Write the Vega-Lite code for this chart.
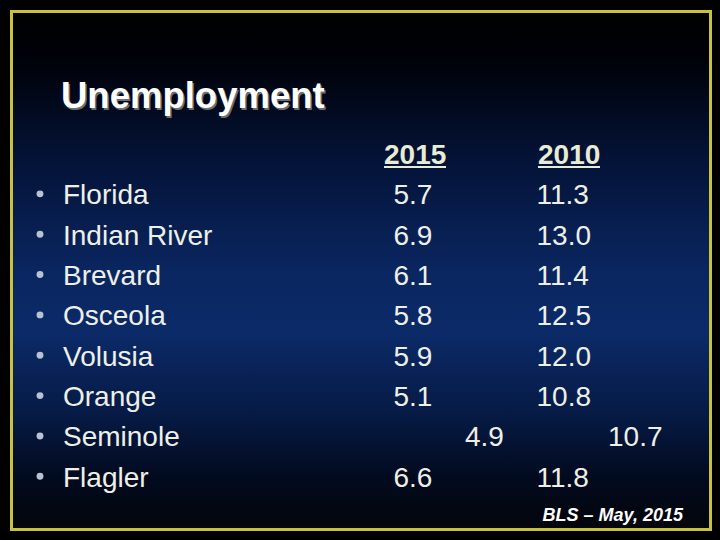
{
  "$schema": "https://vega.github.io/schema/vega-lite/v6.json",
  "width": 699,
  "height": 518,
  "autosize": {"type": "none"},
  "padding": {"left": 11.5, "top": 11.5, "right": 9.5, "bottom": 10.5},
  "background": "#000000",
  "config": {
    "view": {
      "fill": {
        "gradient": "linear",
        "x1": 0, "y1": 0, "x2": 0, "y2": 1,
        "stops": [
          {"offset": 0, "color": "#000000"},
          {"offset": 0.1, "color": "#00020a"},
          {"offset": 0.3, "color": "#04143a"},
          {"offset": 0.5, "color": "#0a2660"},
          {"offset": 0.62, "color": "#0b2a68"},
          {"offset": 0.78, "color": "#061a44"},
          {"offset": 0.9, "color": "#020a1e"},
          {"offset": 1, "color": "#03050a"}
        ]
      },
      "stroke": "#c9c23f",
      "strokeWidth": 3
    },
    "text": {"font": "Liberation Sans"}
  },
  "datasets": {
    "counties": [
      {"county": "Florida"},
      {"county": "Indian River"},
      {"county": "Brevard"},
      {"county": "Osceola"},
      {"county": "Volusia"},
      {"county": "Orange"},
      {"county": "Seminole"},
      {"county": "Flagler"}
    ],
    "rates": [
      {"county": "Florida", "year": "2015", "column": "2015", "value": 5.7},
      {"county": "Indian River", "year": "2015", "column": "2015", "value": 6.9},
      {"county": "Brevard", "year": "2015", "column": "2015", "value": 6.1},
      {"county": "Osceola", "year": "2015", "column": "2015", "value": 5.8},
      {"county": "Volusia", "year": "2015", "column": "2015", "value": 5.9},
      {"county": "Orange", "year": "2015", "column": "2015", "value": 5.1},
      {"county": "Seminole", "year": "2015", "column": "2015 shifted", "value": 4.9},
      {"county": "Flagler", "year": "2015", "column": "2015", "value": 6.6},
      {"county": "Florida", "year": "2010", "column": "2010", "value": 11.3},
      {"county": "Indian River", "year": "2010", "column": "2010", "value": 13.0},
      {"county": "Brevard", "year": "2010", "column": "2010", "value": 11.4},
      {"county": "Osceola", "year": "2010", "column": "2010", "value": 12.5},
      {"county": "Volusia", "year": "2010", "column": "2010", "value": 12.0},
      {"county": "Orange", "year": "2010", "column": "2010", "value": 10.8},
      {"county": "Seminole", "year": "2010", "column": "2010 shifted", "value": 10.7},
      {"county": "Flagler", "year": "2010", "column": "2010", "value": 11.8}
    ],
    "headers": [
      {"year": "2015", "row": "header"},
      {"year": "2010", "row": "header"}
    ],
    "labels": [
      {"role": "title", "text": "Unemployment"},
      {"role": "source", "text": "BLS – May, 2015"}
    ]
  },
  "resolve": {"scale": {"x": "independent", "y": "independent"}},
  "layer": [
    {
      "data": {"name": "counties"},
      "mark": {"type": "point", "filled": true, "size": 48, "color": "#b7c2d2", "opacity": 1, "yOffset": -10.5},
      "encoding": {
        "x": {"datum": "bullet", "type": "nominal", "axis": null, "scale": {"type": "point", "domain": ["bullet", "name"], "range": [28.5, 51.5], "padding": 0}},
        "y": {"field": "county", "type": "nominal", "axis": null, "scale": {"type": "point", "domain": ["header", "Florida", "Indian River", "Brevard", "Osceola", "Volusia", "Orange", "Seminole", "Flagler"], "range": [152.5, 475.3], "padding": 0}}
      }
    },
    {
      "data": {"name": "counties"},
      "mark": {"type": "text", "align": "left", "baseline": "alphabetic", "fontSize": 28, "color": "#eef0e8"},
      "encoding": {
        "x": {"datum": "name", "type": "nominal", "axis": null, "scale": {"type": "point", "domain": ["bullet", "name"], "range": [28.5, 51.5], "padding": 0}},
        "y": {"field": "county", "type": "nominal", "axis": null, "scale": {"type": "point", "domain": ["header", "Florida", "Indian River", "Brevard", "Osceola", "Volusia", "Orange", "Seminole", "Flagler"], "range": [152.5, 475.3], "padding": 0}},
        "text": {"field": "county"}
      }
    },
    {
      "data": {"name": "headers"},
      "mark": {"type": "text", "align": "left", "baseline": "alphabetic", "fontSize": 28, "fontWeight": "bold", "color": "#e8ecd6"},
      "encoding": {
        "x": {"field": "year", "type": "nominal", "axis": null, "scale": {"type": "point", "domain": ["2015", "2010"], "range": [372.5, 526.5], "padding": 0}},
        "y": {"field": "row", "type": "nominal", "axis": null, "scale": {"type": "point", "domain": ["header", "Florida", "Indian River", "Brevard", "Osceola", "Volusia", "Orange", "Seminole", "Flagler"], "range": [152.5, 475.3], "padding": 0}},
        "text": {"field": "year"}
      }
    },
    {
      "data": {"name": "headers"},
      "mark": {"type": "rule", "strokeWidth": 2, "color": "#e8ecd6", "x2Offset": 62, "yOffset": 3},
      "encoding": {
        "x": {"field": "year", "type": "nominal", "axis": null, "scale": {"type": "point", "domain": ["2015", "2010"], "range": [372.5, 526.5], "padding": 0}},
        "x2": {"field": "year"},
        "y": {"field": "row", "type": "nominal", "axis": null, "scale": {"type": "point", "domain": ["header", "Florida", "Indian River", "Brevard", "Osceola", "Volusia", "Orange", "Seminole", "Flagler"], "range": [152.5, 475.3], "padding": 0}}
      }
    },
    {
      "data": {"name": "rates"},
      "mark": {"type": "text", "align": "left", "baseline": "alphabetic", "fontSize": 28, "color": "#eef0e8"},
      "encoding": {
        "x": {"field": "column", "type": "nominal", "axis": null, "scale": {"type": "point", "domain": ["2015", "2015 shifted", "2010", "2010 shifted"], "range": [382, 596.5], "padding": 0}},
        "y": {"field": "county", "type": "nominal", "axis": null, "scale": {"type": "point", "domain": ["header", "Florida", "Indian River", "Brevard", "Osceola", "Volusia", "Orange", "Seminole", "Flagler"], "range": [152.5, 475.3], "padding": 0}},
        "text": {"field": "value", "type": "quantitative", "format": ".1f"}
      }
    },
    {
      "data": {"name": "labels"},
      "transform": [{"filter": "datum.role == 'title'"}],
      "mark": {"type": "text", "align": "left", "baseline": "alphabetic", "fontSize": 36.5, "fontWeight": "bold", "color": "#6e6e6e", "dx": 1.5, "dy": 1.5},
      "encoding": {
        "x": {"field": "role", "type": "nominal", "axis": null, "scale": {"type": "point", "domain": ["title", "source"], "range": [49.5, 671.5], "padding": 0}},
        "y": {"field": "role", "type": "nominal", "axis": null, "scale": {"type": "point", "domain": ["title", "source"], "range": [96.5, 509.5], "padding": 0}},
        "text": {"field": "text"}
      }
    },
    {
      "data": {"name": "labels"},
      "transform": [{"filter": "datum.role == 'title'"}],
      "mark": {"type": "text", "align": "left", "baseline": "alphabetic", "fontSize": 36.5, "fontWeight": "bold", "color": "#ffffff"},
      "encoding": {
        "x": {"field": "role", "type": "nominal", "axis": null, "scale": {"type": "point", "domain": ["title", "source"], "range": [49.5, 671.5], "padding": 0}},
        "y": {"field": "role", "type": "nominal", "axis": null, "scale": {"type": "point", "domain": ["title", "source"], "range": [96.5, 509.5], "padding": 0}},
        "text": {"field": "text"}
      }
    },
    {
      "data": {"name": "labels"},
      "transform": [{"filter": "datum.role == 'source'"}],
      "mark": {"type": "text", "align": "right", "baseline": "alphabetic", "fontSize": 18, "fontWeight": "bold", "fontStyle": "italic", "color": "#ffffff"},
      "encoding": {
        "x": {"field": "role", "type": "nominal", "axis": null, "scale": {"type": "point", "domain": ["title", "source"], "range": [49.5, 671.5], "padding": 0}},
        "y": {"field": "role", "type": "nominal", "axis": null, "scale": {"type": "point", "domain": ["title", "source"], "range": [96.5, 509.5], "padding": 0}},
        "text": {"field": "text"}
      }
    }
  ]
}
